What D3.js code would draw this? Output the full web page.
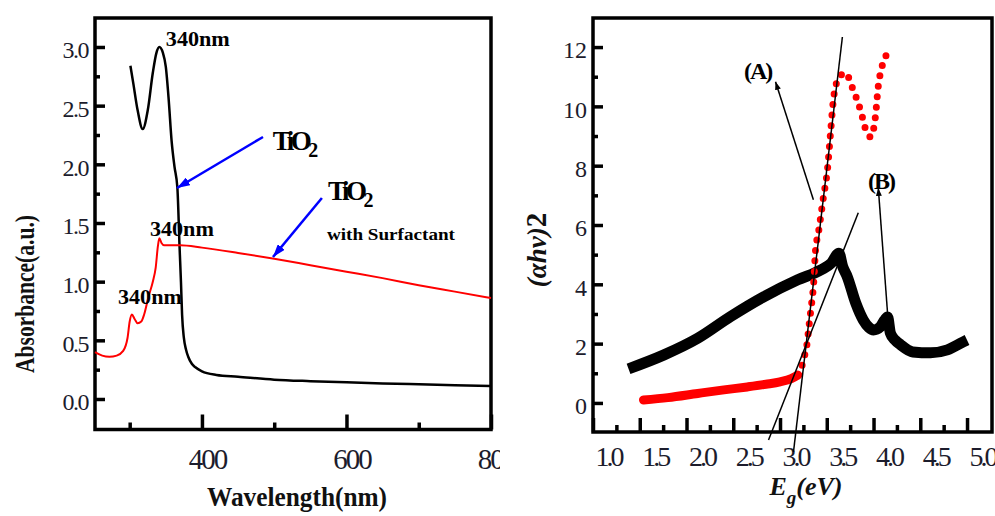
<!DOCTYPE html>
<html>
<head>
<meta charset="utf-8">
<script src="https://cdn.jsdelivr.net/npm/d3@7"></script>
<style>
  body { margin: 0; background: #fff; }
  svg { display: block; font-family: "Liberation Serif", "Times New Roman", serif; }
</style>
</head>
<body>
<div id="chart"></div>
<script>
// ---- Left panel data: absorbance spectra ----
const wlTiO2 = [301, 305, 311, 318, 325, 332, 337, 341, 346, 350, 354, 358, 362, 366, 369, 371, 372.5, 375, 378, 381, 386, 391, 400, 420, 450, 500, 550, 600, 650, 700, 750, 800];
const absTiO2 = [2.84, 2.69, 2.46, 2.30, 2.46, 2.78, 2.95, 3.0, 2.95, 2.83, 2.55, 2.20, 1.98, 1.80, 1.30, 0.99, 0.72, 0.52, 0.42, 0.36, 0.30, 0.27, 0.235, 0.205, 0.19, 0.165, 0.152, 0.142, 0.133, 0.125, 0.118, 0.11];

const wlSurf = [252, 262, 272, 282, 291, 297, 300, 303, 307, 311, 316, 320, 326, 332, 336, 339, 341, 344, 348, 355, 370, 400, 450, 500, 550, 600, 650, 700, 750, 800];
const absSurf = [0.40, 0.37, 0.36, 0.37, 0.41, 0.52, 0.66, 0.72, 0.68, 0.645, 0.66, 0.72, 0.87, 1.00, 1.12, 1.30, 1.37, 1.33, 1.31, 1.31, 1.31, 1.29, 1.245, 1.195, 1.14, 1.085, 1.03, 0.97, 0.915, 0.86];

const leftYTicks = [0, 0.5, 1.0, 1.5, 2.0, 2.5, 3.0];
const leftXTicks = [400, 600, 800];

// ---- Right panel data: (alpha h nu)^2 vs Eg ----
const egA = [1.54, 1.8, 2.12, 2.4, 2.65, 2.85, 3.0, 3.12, 3.19, 3.23, 3.25, 3.29, 3.31, 3.33, 3.36, 3.38, 3.41, 3.46, 3.51, 3.54, 3.57, 3.62, 3.70, 3.77, 3.86, 3.93, 3.97, 4.02, 4.05, 4.09, 4.15];
const tauA = [0.10, 0.18, 0.32, 0.44, 0.54, 0.63, 0.71, 0.82, 0.94, 1.2, 1.45, 2.02, 2.6, 3.14, 4.05, 5.16, 5.73, 6.85, 7.96, 9.1, 10.2, 10.9, 11.13, 10.66, 9.88, 9.1, 8.97, 9.65, 10.66, 11.33, 11.8];

const egB = [1.38, 1.76, 2.12, 2.47, 2.83, 3.19, 3.44, 3.55, 3.63, 3.67, 3.72, 3.81, 3.89, 3.95, 4.0, 4.07, 4.12, 4.15, 4.18, 4.23, 4.29, 4.42, 4.61, 4.79, 4.96, 5.0];
const tauB = [1.15, 1.62, 2.18, 2.91, 3.585, 4.15, 4.49, 4.72, 5.05, 4.6, 4.25, 3.37, 2.80, 2.55, 2.46, 2.56, 2.80, 2.90, 2.36, 2.12, 1.96, 1.72, 1.69, 1.79, 2.06, 2.12];

const rightXTicks = [1.0, 1.5, 2.0, 2.5, 3.0, 3.5, 4.0, 4.5, 5.0];
const rightYTicks = [0, 2, 4, 6, 8, 10, 12];

// tangent / pointer lines on the right panel, [x1, y1, x2, y2] in data units
const tangentA = [3.667, 12.34, 3.144, -1.65];
const tangentB = [3.837, 6.41, 2.877, -1.25];
const pointerA = [3.357, 6.85, 2.952, 10.83];
const pointerB = [4.157, 2.73, 4.051, 7.25];


// ---- Set up svg ----
const svg = d3.select("#chart")
    .append("svg")
    .attr("width", 995)
    .attr("height", 516);

const defs = svg.append("defs");

defs.append("clipPath")
    .attr("id", "clipLeft")
    .append("rect")
    .attr("width", 500)
    .attr("height", 516);

function addArrow(id, color, len, wid) {
    defs.append("marker")
        .attr("id", id)
        .attr("viewBox", `0 0 ${len} ${wid}`)
        .attr("markerUnits", "userSpaceOnUse")
        .attr("markerWidth", len)
        .attr("markerHeight", wid)
        .attr("refX", len)
        .attr("refY", wid / 2)
        .attr("orient", "auto")
        .append("path")
        .attr("d", `M0,0L${len},${wid / 2}L0,${wid}Z`)
        .attr("fill", color);
}
addArrow("arrowBlue", "#0000ff", 13, 9);
addArrow("arrowBlack", "#000", 8, 6);


// ---- Axis helper: inward ticks, major + minor ----
function drawAxes(g, x, y, cfg) {
    const bottom = y.range()[0];
    const left = x.range()[0];

    const styleAxis = sel => {
        sel.select(".domain").remove();
        sel.selectAll(".tick line").attr("stroke", "#000").attr("stroke-width", 3.5);
        sel.attr("font-family", null)
            .attr("font-size", cfg.fontSize)
            .attr("fill", "#1c1c2c");
        sel.selectAll(".tick text").attr("fill", "#1c1c2c");
    };

    g.append("g")
        .attr("transform", `translate(0,${bottom})`)
        .call(d3.axisBottom(x).tickValues(cfg.xMinor).tickSize(-cfg.xMinorLen).tickFormat(""))
        .call(styleAxis);

    const xAxis = g.append("g")
        .attr("transform", `translate(0,${bottom})`)
        .call(d3.axisBottom(x).tickValues(cfg.xMajor).tickSize(-cfg.xMajorLen)
            .tickPadding(cfg.xPad).tickFormat(cfg.xFormat))
        .call(styleAxis);
    xAxis.selectAll(".tick text")
        .attr("dx", cfg.xShift)
        .attr("font-size", cfg.xFontSize)
        .style("letter-spacing", cfg.xSpacing);

    g.append("g")
        .attr("transform", `translate(${left},0)`)
        .call(d3.axisLeft(y).tickValues(cfg.yMinor).tickSize(-cfg.yMinorLen).tickFormat(""))
        .call(styleAxis);

    const yAxis = g.append("g")
        .attr("transform", `translate(${left},0)`)
        .call(d3.axisLeft(y).tickValues(cfg.yMajor).tickSize(-cfg.yMajorLen)
            .tickPadding(cfg.yPad).tickFormat(cfg.yFormat))
        .call(styleAxis);
    yAxis.selectAll(".tick text")
        .attr("dy", "0.45em")
        .style("letter-spacing", cfg.ySpacing);

    // frame
    g.append("rect")
        .attr("x", x.range()[0])
        .attr("y", y.range()[1])
        .attr("width", x.range()[1] - x.range()[0])
        .attr("height", y.range()[0] - y.range()[1])
        .attr("fill", "none")
        .attr("stroke", "#000")
        .attr("stroke-width", 3.5);
}


// ==== LEFT PANEL ====
const gL = svg.append("g").attr("clip-path", "url(#clipLeft)");

const xL = d3.scaleLinear().domain([252, 800]).range([95, 491]);
const yL = d3.scaleLinear().domain([-0.26, 3.247]).range([429.5, 18]);

drawAxes(gL, xL, yL, {
    xMajor: leftXTicks, xMinor: [300, 500, 700], xMajorLen: 15, xMinorLen: 7,
    yMajor: leftYTicks, yMinor: d3.range(0.25, 3.0, 0.5), yMajorLen: 10, yMinorLen: 5,
    xFormat: d3.format("d"), yFormat: d3.format(".1f"),
    xPad: 19, yPad: 7, xShift: 5, fontSize: 24, xFontSize: 29,
    xSpacing: "-2px", ySpacing: "-1.5px"
});

const lineL = d3.line()
    .x(d => xL(d[0]))
    .y(d => yL(d[1]))
    .curve(d3.curveMonotoneX);

gL.append("path")
    .datum(d3.zip(wlTiO2, absTiO2))
    .attr("d", lineL)
    .attr("fill", "none")
    .attr("stroke", "#000")
    .attr("stroke-width", 2.5);

gL.append("path")
    .datum(d3.zip(wlSurf, absSurf))
    .attr("d", lineL)
    .attr("fill", "none")
    .attr("stroke", "#ff0000")
    .attr("stroke-width", 2);

// blue pointers
const bluePointers = [[484.5, 2.233, 365.5, 1.798], [566, 1.713, 498.3, 1.21]];
gL.selectAll(".blue-arrow")
    .data(bluePointers)
    .join("line")
    .attr("class", "blue-arrow")
    .attr("x1", d => xL(d[0])).attr("y1", d => yL(d[1]))
    .attr("x2", d => xL(d[2])).attr("y2", d => yL(d[3]))
    .attr("stroke", "#0000ff")
    .attr("stroke-width", 2.5)
    .attr("marker-end", "url(#arrowBlue)");

// peak labels
const peakLabels = [[350, 3.009], [328, 1.389], [283.8, 0.81]];
gL.selectAll(".peak-label")
    .data(peakLabels)
    .join("text")
    .attr("class", "peak-label")
    .attr("x", d => xL(d[0]))
    .attr("y", d => yL(d[1]))
    .attr("font-size", 21)
    .attr("font-weight", "bold")
    .attr("textLength", 64)
    .attr("lengthAdjust", "spacingAndGlyphs")
    .text("340nm");

function tio2(g, x, y) {
    const t = g.append("text")
        .attr("x", x).attr("y", y)
        .attr("font-size", 27)
        .attr("font-weight", "bold")
        .style("letter-spacing", "-3.5px");
    t.append("tspan").text("TiO");
    t.append("tspan").attr("font-size", 20).attr("dy", 7).text("2");
}
tio2(gL, xL(498), yL(2.122));
tio2(gL, xL(574.5), yL(1.696));

gL.append("text")
    .attr("x", xL(573))
    .attr("y", yL(1.355))
    .attr("font-size", 17)
    .attr("font-weight", "bold")
    .attr("textLength", 128)
    .attr("lengthAdjust", "spacingAndGlyphs")
    .text("with Surfactant");

// axis titles
gL.append("text")
    .attr("transform", "translate(34,294) rotate(-90)")
    .attr("text-anchor", "middle")
    .attr("font-size", 27)
    .attr("font-weight", "bold")
    .attr("fill", "#111")
    .attr("textLength", 158)
    .attr("lengthAdjust", "spacingAndGlyphs")
    .text("Absorbance(a.u.)");

gL.append("text")
    .attr("x", 297)
    .attr("y", 506)
    .attr("text-anchor", "middle")
    .attr("font-size", 27)
    .attr("font-weight", "bold")
    .attr("fill", "#111")
    .attr("textLength", 180)
    .attr("lengthAdjust", "spacingAndGlyphs")
    .text("Wavelength(nm)");


// ==== RIGHT PANEL ====
const gR = svg.append("g");

const xR = d3.scaleLinear().domain([1.0, 5.267]).range([593, 992]);
const yR = d3.scaleLinear().domain([-0.98, 12.98]).range([432, 18]);

drawAxes(gR, xR, yR, {
    xMajor: rightXTicks, xMinor: d3.range(1.25, 5.0, 0.5), xMajorLen: 14, xMinorLen: 7,
    yMajor: rightYTicks, yMinor: d3.range(1, 12, 2), yMajorLen: 10, yMinorLen: 5,
    xFormat: d3.format(".1f"), yFormat: d3.format("d"),
    xPad: 14, yPad: 6, xShift: 15, fontSize: 24, xFontSize: 28,
    xSpacing: "-3px", ySpacing: "0px"
});

const lineR = d3.line()
    .x(d => xR(d[0]))
    .y(d => yR(d[1]))
    .curve(d3.curveMonotoneX);

// black series (B): dense square markers merge into a thick band
gR.append("path")
    .datum(d3.zip(egB, tauB))
    .attr("d", lineR)
    .attr("fill", "none")
    .attr("stroke", "#000")
    .attr("stroke-width", 11)
    .attr("stroke-linejoin", "bevel");

// red series (A): dense band at low energy, separate dots above
const redData = d3.zip(egA, tauA);
gR.append("path")
    .datum(redData)
    .attr("d", lineR.defined(d => d[0] <= 3.2))
    .attr("fill", "none")
    .attr("stroke", "#ff0000")
    .attr("stroke-width", 9)
    .attr("stroke-linecap", "round");
lineR.defined(() => true);

gR.append("path")
    .datum(redData)
    .attr("d", lineR)
    .attr("fill", "none")
    .attr("stroke", "#ff0000")
    .attr("stroke-width", 7)
    .attr("stroke-linecap", "round")
    .attr("stroke-dasharray", "0 10.5");

// tangents and pointers
gR.selectAll(".tangent")
    .data([tangentA, tangentB])
    .join("line")
    .attr("class", "tangent")
    .attr("x1", d => xR(d[0])).attr("y1", d => yR(d[1]))
    .attr("x2", d => xR(d[2])).attr("y2", d => yR(d[3]))
    .attr("stroke", "#000")
    .attr("stroke-width", 1.5);

gR.selectAll(".pointer")
    .data([pointerA, pointerB])
    .join("line")
    .attr("class", "pointer")
    .attr("x1", d => xR(d[0])).attr("y1", d => yR(d[1]))
    .attr("x2", d => xR(d[2])).attr("y2", d => yR(d[3]))
    .attr("stroke", "#000")
    .attr("stroke-width", 1.5)
    .attr("marker-end", "url(#arrowBlack)");

const curveLabels = [["(A)", 2.615, 10.92], ["(B)", 3.941, 7.21]];
gR.selectAll(".curve-label")
    .data(curveLabels)
    .join("text")
    .attr("class", "curve-label")
    .attr("x", d => xR(d[1]))
    .attr("y", d => yR(d[2]))
    .attr("font-size", 24)
    .attr("font-weight", "bold")
    .style("letter-spacing", "-2px")
    .text(d => d[0]);

// axis titles
const yTitle = gR.append("text")
    .attr("transform", "translate(546,250) rotate(-90)")
    .attr("text-anchor", "middle")
    .attr("font-size", 27)
    .attr("font-weight", "bold")
    .attr("fill", "#111");
yTitle.append("tspan").attr("font-style", "italic").text("(αhν)");
yTitle.append("tspan").attr("font-size", 29).text("2");

const xTitle = gR.append("text")
    .attr("x", 806)
    .attr("y", 495)
    .attr("text-anchor", "middle")
    .attr("font-size", 26)
    .attr("font-weight", "bold")
    .attr("font-style", "italic")
    .attr("fill", "#111");
xTitle.append("tspan").text("E");
xTitle.append("tspan").attr("font-size", 19).attr("dy", 9).text("g");
xTitle.append("tspan").attr("dy", -9).text("(eV)");
</script>
</body>
</html>
